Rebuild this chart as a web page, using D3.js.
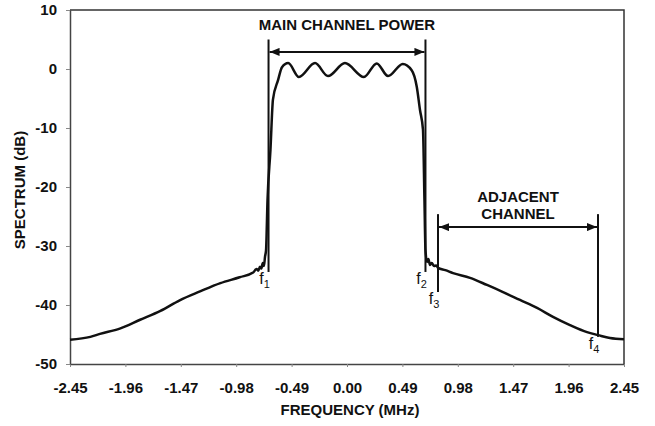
<!DOCTYPE html>
<html>
<head>
<meta charset="utf-8">
<script src="https://d3js.org/d3.v7.min.js"></script>
<style>
body { margin: 0; background: #fff; }
text { font-family: "Liberation Sans", Arial, sans-serif; fill: #111; }
</style>
</head>
<body>
<div id="chart"></div>
<script>
// Spectrum curve (MHz, dB)
var freqMHz = [
    -2.45, -2.27, -2.185, -2.01, -1.83, -1.65, -1.48, -1.30, -1.12, -0.95, -0.83,
    -0.80, -0.785, -0.77, -0.757, -0.745, -0.735, -0.725,
    -0.716, -0.703, -0.677, -0.655, -0.61, -0.575,
    -0.52, -0.425, -0.283, -0.168, -0.018, 0.15, 0.263, 0.363, 0.493,
    0.572, 0.617, 0.646, 0.672, 0.685, 0.694, 0.708,
    0.72, 0.734, 0.75, 0.77, 0.79, 0.805, 0.87, 0.938, 1.088, 1.238, 1.38,
    1.53, 1.681, 1.822, 1.972, 2.123, 2.22, 2.326, 2.45
];
var spectrumDb = [
    -45.9, -45.4, -44.9, -44.0, -42.5, -41.0, -39.2, -37.7, -36.3, -35.3, -34.5,
    -33.9, -34.2, -33.5, -33.8, -32.9, -33.4, -31.8,
    -30.7, -22.2, -13.7, -5.2, -1.9, 0.3,
    1.0, -1.36, 1.0, -1.2, 1.0, -1.36, 0.95, -1.2, 0.85,
    -0.2, -3.0, -7.0, -10.3, -22.2, -30.7, -32.7,
    -32.2, -33.2, -32.9, -33.4, -33.3, -33.7, -34.1, -34.6, -35.4, -36.6, -37.8,
    -39.15, -40.5, -42.0, -43.4, -44.6, -45.1, -45.6, -45.8
];

var xTickValues = [-2.45, -1.96, -1.47, -0.98, -0.49, 0.00, 0.49, 0.98, 1.47, 1.96, 2.45];
var yTickValues = [-50, -40, -30, -20, -10, 0, 10];

// frequency markers f1..f4 and the span of their lines (dB)
var markerNames = ["1", "2", "3", "4"];
var markerFreqs = [-0.694, 0.694, 0.805, 2.22];
var markerTopDb = [5, 5, -24.6, -24.6];
var markerBottomDb = [-34.4, -34.4, -37.8, -45.4];

var svgWidth = 655;
var svgHeight = 426;
var margin = { top: 10, right: 31, bottom: 62, left: 70 };
var width = svgWidth - margin.left - margin.right;
var height = svgHeight - margin.top - margin.bottom;

var svg = d3.select("#chart")
    .append("svg")
    .attr("width", svgWidth)
    .attr("height", svgHeight);

// arrow heads
svg.append("defs").append("marker")
    .attr("id", "arrow")
    .attr("viewBox", "0 0 10 8")
    .attr("refX", 10)
    .attr("refY", 4)
    .attr("markerWidth", 10)
    .attr("markerHeight", 8)
    .attr("markerUnits", "userSpaceOnUse")
    .attr("orient", "auto-start-reverse")
    .append("path")
    .attr("d", "M0,0 L10,4 L0,8 Z")
    .attr("fill", "#111");

var chartGroup = svg.append("g")
    .attr("transform", `translate(${margin.left}, ${margin.top})`);

var xScale = d3.scaleLinear().domain([-2.45, 2.45]).range([0, width]);
var yScale = d3.scaleLinear().domain([-50, 10]).range([height, 0]);

var bottomAxis = d3.axisBottom(xScale)
    .tickValues(xTickValues)
    .tickFormat(d => d.toFixed(2))
    .tickSizeInner(3)
    .tickSizeOuter(0)
    .tickPadding(15);
var leftAxis = d3.axisLeft(yScale)
    .tickValues(yTickValues)
    .tickFormat(d => String(d))
    .tickSizeInner(4)
    .tickSizeOuter(0)
    .tickPadding(9);

var xAxis = chartGroup.append("g")
    .attr("transform", `translate(0, ${height})`)
    .call(bottomAxis);
var yAxis = chartGroup.append("g")
    .call(leftAxis);

[xAxis, yAxis].forEach(function(ax) {
    ax.select(".domain").attr("stroke", "#444").attr("stroke-width", 1.5);
    ax.selectAll(".tick line").attr("stroke", "#888");
    ax.selectAll(".tick text")
        .attr("font-family", '"Liberation Sans", Arial, sans-serif')
        .attr("font-size", 15)
        .attr("font-weight", "bold")
        .attr("fill", "#111");
});

// top and right frame
chartGroup.append("path")
    .attr("d", `M0,0 H${width} V${height}`)
    .attr("fill", "none")
    .attr("stroke", "#333")
    .attr("stroke-width", 1.5);

// spectrum curve
var line = d3.line()
    .x(d => xScale(d[0]))
    .y(d => yScale(d[1]))
    .curve(d3.curveMonotoneX);

chartGroup.append("path")
    .datum(d3.zip(freqMHz, spectrumDb))
    .attr("d", line)
    .attr("fill", "none")
    .attr("stroke", "#111")
    .attr("stroke-width", 2.5)
    .attr("stroke-linejoin", "round");

// marker lines
var markers = markerNames.map((n, i) => ({
    name: n, f: markerFreqs[i], top: markerTopDb[i], bottom: markerBottomDb[i]
}));

chartGroup.selectAll(".marker")
    .data(markers)
    .enter()
    .append("line")
    .attr("class", "marker")
    .attr("x1", d => xScale(d.f))
    .attr("x2", d => xScale(d.f))
    .attr("y1", d => yScale(d.top))
    .attr("y2", d => yScale(d.bottom))
    .attr("stroke", "#111")
    .attr("stroke-width", 2);

var fLabels = chartGroup.selectAll(".flabel")
    .data(markers)
    .enter()
    .append("text")
    .attr("class", "flabel")
    .attr("x", d => xScale(d.f) - 4)
    .attr("y", d => yScale(d.bottom) + 12)
    .attr("text-anchor", "middle")
    .attr("font-size", 16);
fLabels.append("tspan").text("f");
fLabels.append("tspan")
    .attr("dy", 4)
    .attr("font-size", 11)
    .text(d => d.name);

// span arrows
var mainY = yScale(2.9);
chartGroup.append("line")
    .attr("x1", xScale(markerFreqs[0]) + 1)
    .attr("x2", xScale(markerFreqs[1]) - 1)
    .attr("y1", mainY)
    .attr("y2", mainY)
    .attr("stroke", "#111")
    .attr("stroke-width", 2)
    .attr("marker-start", "url(#arrow)")
    .attr("marker-end", "url(#arrow)");

chartGroup.append("text")
    .attr("x", (xScale(markerFreqs[0]) + xScale(markerFreqs[1])) / 2)
    .attr("y", mainY - 22)
    .attr("text-anchor", "middle")
    .attr("font-size", 15)
    .attr("font-weight", "bold")
    .text("MAIN CHANNEL POWER");

var adjY = yScale(-26.8);
chartGroup.append("line")
    .attr("x1", xScale(markerFreqs[2]) + 1)
    .attr("x2", xScale(markerFreqs[3]) - 1)
    .attr("y1", adjY)
    .attr("y2", adjY)
    .attr("stroke", "#111")
    .attr("stroke-width", 2)
    .attr("marker-start", "url(#arrow)")
    .attr("marker-end", "url(#arrow)");

var adjX = (xScale(markerFreqs[2]) + xScale(markerFreqs[3])) / 2;
chartGroup.append("text")
    .attr("x", adjX)
    .attr("y", adjY - 25)
    .attr("text-anchor", "middle")
    .attr("font-size", 15)
    .attr("font-weight", "bold")
    .text("ADJACENT");
chartGroup.append("text")
    .attr("x", adjX)
    .attr("y", adjY - 8)
    .attr("text-anchor", "middle")
    .attr("font-size", 15)
    .attr("font-weight", "bold")
    .text("CHANNEL");

// axis titles
svg.append("text")
    .attr("x", margin.left + width / 2 + 3)
    .attr("y", 415)
    .attr("text-anchor", "middle")
    .attr("font-size", 15)
    .attr("font-weight", "bold")
    .text("FREQUENCY (MHz)");

svg.append("text")
    .attr("transform", "translate(25, 190) rotate(-90)")
    .attr("text-anchor", "middle")
    .attr("font-size", 15)
    .attr("font-weight", "bold")
    .text("SPECTRUM (dB)");
</script>
</body>
</html>
